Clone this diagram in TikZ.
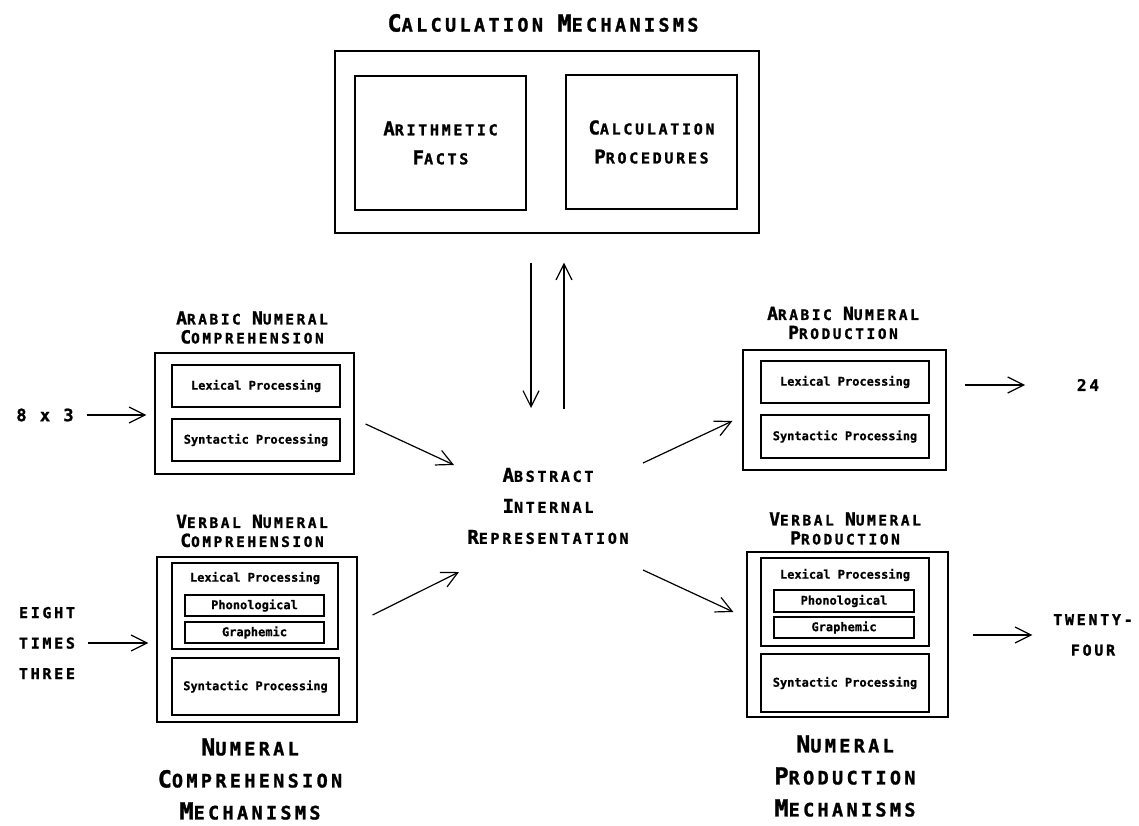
\documentclass[tikz,border=0pt]{standalone}
\usepackage{fontspec}
\usepackage{tikz}
\usetikzlibrary{arrows.meta,calc}

\newfontfamily\plotfont[LetterSpace=18, BoldFeatures={FakeBold=1.3}]{DejaVu Sans Mono}
\newfontfamily\boxfont[BoldFeatures={FakeBold=0.8}]{DejaVu Sans Mono}
\newcommand\capsz{18}
\newcommand\bigc[1]{{\fontsize{\capsz}{\capsz}\selectfont #1}}

\begin{document}
\begin{tikzpicture}[x=1pt, y=-1pt, line width=1.2pt,
    procbox/.style 2 args={draw, minimum width=#1, minimum height=#2, inner sep=0pt},
    bigtext/.style={align=center, font=\plotfont\bfseries\fontsize{18.5}{32}\selectfont\def\capsz{23.5}},
    midtext/.style={align=center, font=\plotfont\bfseries\fontsize{15}{29}\selectfont\def\capsz{19}},
    abstext/.style={align=center, font=\plotfont\bfseries\fontsize{15}{31}\selectfont\def\capsz{19}},
    headtext/.style={align=center, font=\plotfont\bfseries\fontsize{14.4}{19}\selectfont\def\capsz{18}},
    inputtext/.style={align=center, font=\plotfont\bfseries\fontsize{15}{30.5}\selectfont},
    proctext/.style={font=\boxfont\bfseries\fontsize{12}{14}\selectfont},
    arr/.style={-{Straight Barb[length=16pt,width=16pt]}}]

    \useasboundingbox (0,0) rectangle (1139,826);

    % calculation
    \node[bigtext] (calchead) at (543,23) {\bigc{C}ALCULATION \bigc{M}ECHANISMS};
    \node[procbox={424}{182}] (calc) at (547,142) {};
    \node[procbox={171}{134}, midtext] (facts) at (440.5,143) {\bigc{A}RITHMETIC\\\bigc{F}ACTS};
    \node[procbox={171}{134}, midtext] (proc) at (651.5,142) {\bigc{C}ALCULATION\\\bigc{P}ROCEDURES};

    \node[abstext] (abs) at (548,506) {\bigc{A}BSTRACT\\\bigc{I}NTERNAL\\\bigc{R}EPRESENTATION};

    % comprehension
    \node[headtext] (acomphead) at (252,327.5) {\bigc{A}RABIC \bigc{N}UMERAL\\\bigc{C}OMPREHENSION};
    \node[procbox={199}{121}] (acomp) at (254.5,413.5) {};
    \node[procbox={168}{42}, proctext] (acomplex) at (256,386) {Lexical Processing};
    \node[procbox={168}{42}, proctext] (acompsyn) at (256,440) {Syntactic Processing};

    \node[headtext] (vcomphead) at (252,531) {\bigc{V}ERBAL \bigc{N}UMERAL\\\bigc{C}OMPREHENSION};
    \node[procbox={200}{165}] (vcomp) at (257,639.5) {};
    \node[procbox={166}{86}] (vcomplex) at (255,606) {};
    \node[proctext] (vcomplext) at (255,578) {Lexical Processing};
    \node[procbox={139}{21}, proctext] (vcompphon) at (254.5,605.5) {Phonological};
    \node[procbox={139}{21}, proctext] (vcompgraph) at (254.5,632.5) {Graphemic};
    \node[procbox={167}{57}, proctext] (vcompsyn) at (255.5,686.5) {Syntactic Processing};

    \node[bigtext] (comphead) at (250,779) {\bigc{N}UMERAL\\\bigc{C}OMPREHENSION\\\bigc{M}ECHANISMS};

    % production
    \node[headtext] (aprodhead) at (843,323) {\bigc{A}RABIC \bigc{N}UMERAL\\\bigc{P}RODUCTION};
    \node[procbox={203}{120}] (aprod) at (844.5,410) {};
    \node[procbox={168}{42}, proctext] (aprodlex) at (845,382) {Lexical Processing};
    \node[procbox={168}{43}, proctext] (aprodsyn) at (845,436.5) {Syntactic Processing};

    \node[headtext] (vprodhead) at (845,528.5) {\bigc{V}ERBAL \bigc{N}UMERAL\\\bigc{P}RODUCTION};
    \node[procbox={201}{165}] (vprod) at (847.5,634.5) {};
    \node[procbox={168}{88}] (vprodlex) at (845,602) {};
    \node[proctext] (vprodlext) at (845,575) {Lexical Processing};
    \node[procbox={140}{22}, proctext] (vprodphon) at (844,601) {Phonological};
    \node[procbox={140}{21}, proctext] (vprodgraph) at (844,627.5) {Graphemic};
    \node[procbox={168}{58}, proctext] (vprodsyn) at (845,683) {Syntactic Processing};

    \node[bigtext] (prodhead) at (845,776) {\bigc{N}UMERAL\\\bigc{P}RODUCTION\\\bigc{M}ECHANISMS};

    % inputs and outputs
    \node[inputtext, font=\plotfont\bfseries\fontsize{17}{20}\selectfont] (digin) at (45,415) {8 x 3};
    \node[inputtext] (wordin) at (47,643) {EIGHT\\TIMES\\THREE};
    \node[inputtext, font=\plotfont\bfseries\fontsize{16}{20}\selectfont] (digout) at (1088,385) {24};
    \node[inputtext] (wordout) at (1093,635) {TWENTY-\\FOUR};

    \draw[arr, shorten <=9pt, shorten >=8pt] (digin) -- (digin -| acomp.west);
    \draw[arr, shorten <=9pt, shorten >=8pt] (wordin) -- (wordin -| vcomp.west);
    \draw[arr, shorten <=18pt, shorten >=48pt] (digout -| aprod.east) -- (digout);
    \draw[arr, shorten <=24pt, shorten >=17pt] (wordout -| vprod.east) -- (wordout);

    \draw[arr] ($(calc.south)+(-16,29)$) -- ($(abs)+(-17,-98)$);
    \draw[arr] ($(abs)+(16,-97)$) -- ($(calc.south)+(17,29)$);

    \draw[arr] ($(acomp.east)+(11,10.5)$) -- ($(abs)+(-94,-41)$);
    \draw[arr] ($(vcomp.east)+(15,-24.5)$) -- ($(abs)+(-89,66)$);
    \draw[arr] ($(abs)+(95,-43)$) -- ($(aprod.west)+(-10,11)$);
    \draw[arr] ($(abs)+(95,64)$) -- ($(vprod.west)+(-13,-22.5)$);
\end{tikzpicture}
\end{document}
